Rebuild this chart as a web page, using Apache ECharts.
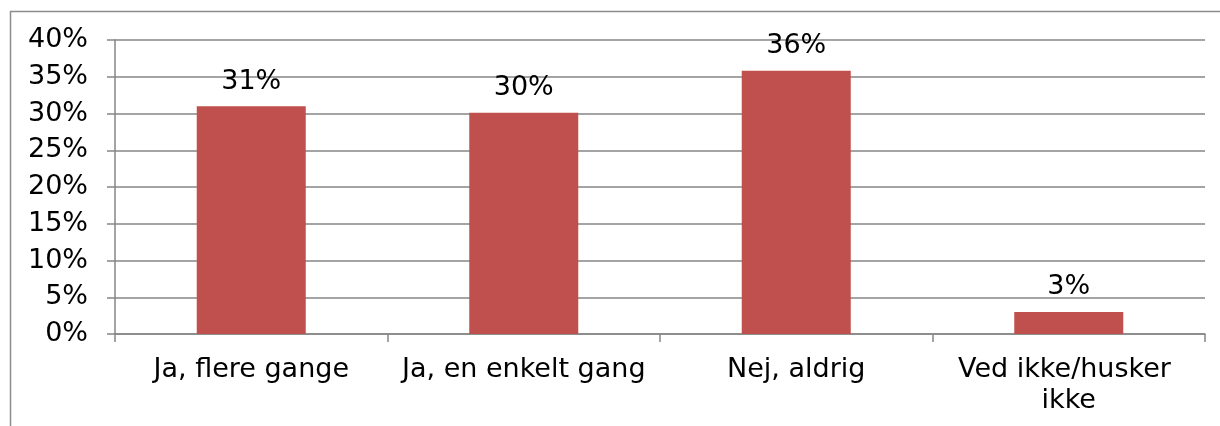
<!DOCTYPE html>
<html>
<head>
<meta charset="utf-8">
<title>Diagram</title>
<script src="https://cdn.jsdelivr.net/npm/echarts@6/dist/echarts.min.js"></script>
<style>
  html, body { margin: 0; padding: 0; background: #fff; }
  #main { width: 1220px; height: 426px; }
</style>
</head>
<body>
<div id="main"></div>
<script>
// data
var categories = ['Ja, flere gange', 'Ja, en enkelt gang', 'Nej, aldrig', 'Ved ikke/husker ikke'];
var values = [31.0, 30.1, 35.8, 3.0];
var yTicks = [0, 5, 10, 15, 20, 25, 30, 35, 40];

var chart = echarts.init(document.getElementById('main'));
var font = '"DejaVu Sans", Verdana, sans-serif';

chart.setOption({
    animation: false,
    textStyle: { fontFamily: font },
    graphic: [{
        // frame of the chart area
        type: 'rect',
        shape: { x: 10.5, y: 11.5, width: 1300, height: 500 },
        style: { fill: 'none', stroke: '#8c8c8c', lineWidth: 1.5 },
        silent: true
    }],
    grid: { left: 115, right: 15, top: 40, bottom: 92 },
    xAxis: {
        type: 'category',
        data: categories,
        axisLine: { lineStyle: { color: '#868686', width: 1.5 } },
        axisTick: { show: true, length: 8, lineStyle: { color: '#868686', width: 1.5 } },
        axisLabel: {
            color: '#000', fontSize: 27, fontFamily: font, margin: 20,
            width: 255, overflow: 'break', lineHeight: 31, interval: 0
        }
    },
    yAxis: {
        type: 'value',
        min: yTicks[0],
        max: yTicks[yTicks.length - 1],
        interval: 5,
        axisLine: { show: true, lineStyle: { color: '#868686', width: 1.5 } },
        axisTick: { show: true, length: 8, lineStyle: { color: '#868686', width: 1.5 } },
        axisLabel: {
            color: '#000', fontSize: 27, fontFamily: font, margin: 27,
            formatter: function (v) { return v + '%'; }
        },
        splitLine: { lineStyle: { color: '#868686', width: 1.5 } }
    },
    series: [{
        type: 'bar',
        data: values,
        barWidth: '40%',
        itemStyle: { color: '#C0504D' },
        label: {
            show: true,
            position: 'top',
            distance: 11,
            color: '#000',
            fontSize: 27,
            fontFamily: font,
            formatter: function (p) { return Math.round(p.value) + '%'; }
        }
    }]
});
</script>
</body>
</html>
